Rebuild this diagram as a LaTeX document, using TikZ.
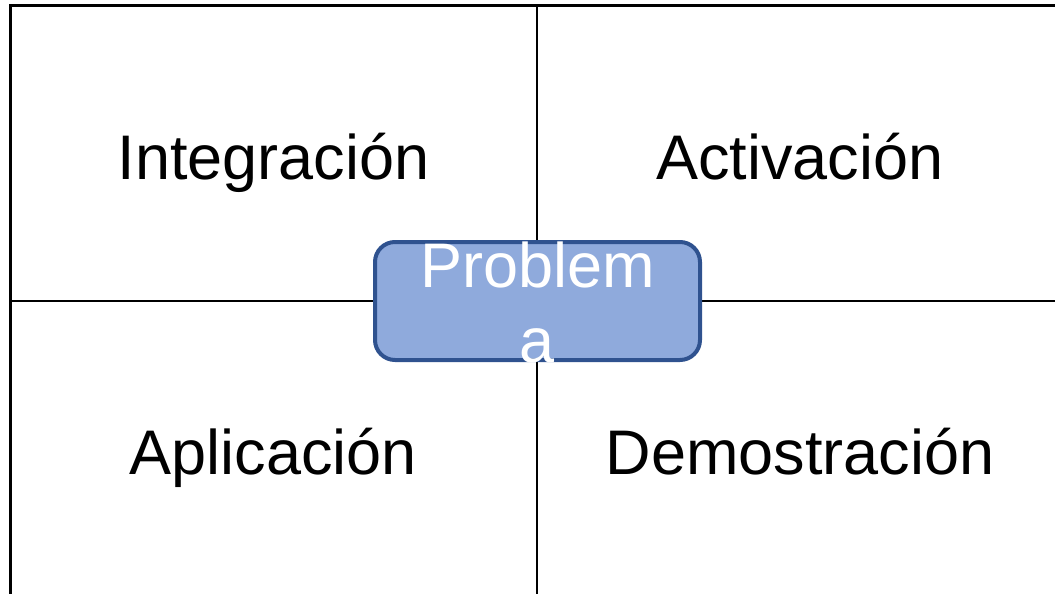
\documentclass[tikz,border=0pt]{standalone}
\usepackage{fontspec}
\setmainfont{Liberation Sans}
\definecolor{boxfill}{HTML}{8FAADC}
\definecolor{boxline}{HTML}{2F528F}
\begin{document}
\begin{tikzpicture}[x=1pt,y=-1pt,
  gridline/.style={line width=2.6pt,black},
  quad/.style={anchor=base,font=\fontsize{63}{75}\selectfont,inner sep=0pt},
  center box/.style={draw=boxline,line width=4pt,fill=boxfill,rounded corners=20pt,
    minimum width=325pt,minimum height=118pt,inner sep=0pt}]
\useasboundingbox (0,0) rectangle (1055,594);
\coordinate (tl) at (10.5,5.8);
\coordinate (tr) at (1070,5.8);
\coordinate (bl) at (10.5,610);
\coordinate (mt) at (537,5.8);
\coordinate (mb) at (537,610);
\coordinate (ml) at (10.5,301);
\coordinate (mr) at (1070,301);
\draw[gridline] (bl) -- (tl) -- (tr);
\draw[gridline] (mt) -- (mb);
\draw[gridline] (ml) -- (mr);
\node[quad] (integ) at (273.5,179) {Integración};
\node[quad] (activ) at (800,179) {Activación};
\node[quad] (aplic) at (273.5,474) {Aplicación};
\node[quad] (demos) at (800,474) {Demostración};
\node[center box] (prob) at (537.5,301) {};
\node[quad,text=white,align=center,anchor=base] (probtxt) at (537.5,362) {Problem\\a};
\end{tikzpicture}
\end{document}
